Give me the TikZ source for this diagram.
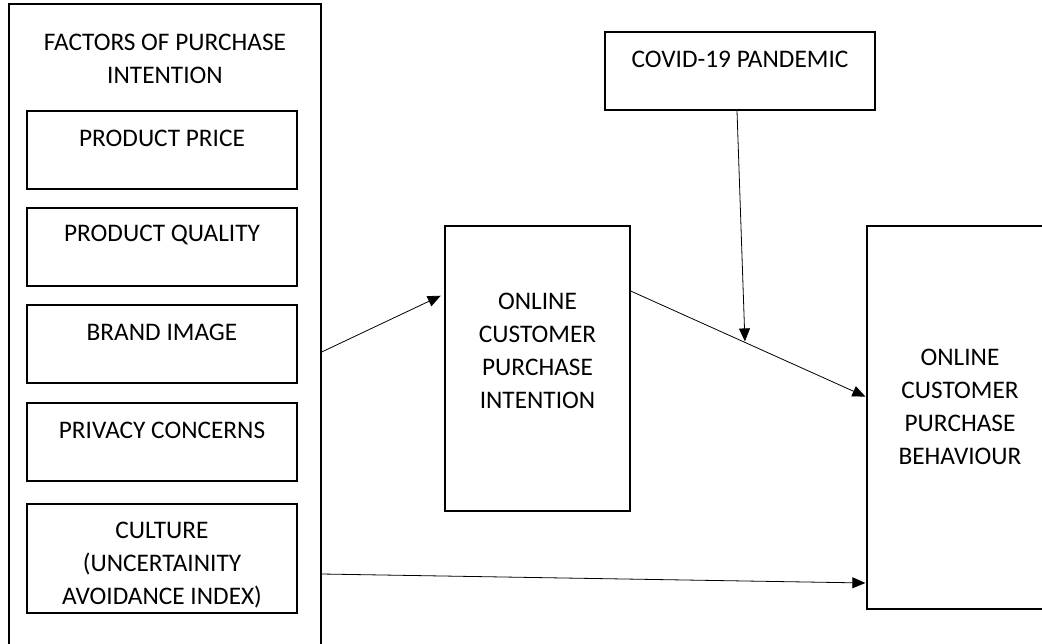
\documentclass[tikz,border=0pt]{standalone}
\usepackage{fontspec}
\setmainfont{Carlito}
\usetikzlibrary{arrows.meta, positioning}

\begin{document}
\begin{tikzpicture}[
    x=1pt, y=-1pt,
    node distance=17.7pt,
    every node/.style={font=\fontsize{25.3}{33}\selectfont},
    every label/.style={align=center, inner sep=0pt, font=\fontsize{25.3}{33}\selectfont},
    box/.style={rectangle, draw, line width=1.3pt, inner sep=0pt},
    factor/.style={box, minimum width=270pt, minimum height=78pt},
    link/.style={draw, line width=0.8pt, -{Triangle[length=13pt, width=11pt]}, shorten >=1pt}
  ]

  \useasboundingbox (0,0) rectangle (1042,643);
  \clip (0,0) rectangle (1042,643);

  % left group
  \node[box, minimum width=312pt, minimum height=646pt,
        label={[anchor=center, yshift=-56pt]north:FACTORS OF PURCHASE\\INTENTION}]
        (factors) at (165,327) {};

  \node[factor, label={[yshift=12pt]center:PRODUCT PRICE}] (price) at (162,150) {};
  \node[factor, below=of price, label={[yshift=12pt]center:PRODUCT QUALITY}] (quality) {};
  \node[factor, below=of quality, label={[yshift=12pt]center:BRAND IMAGE}] (brand) {};
  \node[factor, below=18.7pt of brand, label={[yshift=12pt]center:PRIVACY CONCERNS}] (privacy) {};
  \node[factor, minimum height=109pt, below=21.7pt of privacy,
        label={[yshift=-7pt]center:CULTURE\\(UNCERTAINITY\\AVOIDANCE INDEX)}] (culture) {};

  % other boxes
  \node[factor, label={[yshift=12pt]center:COVID-19 PANDEMIC}] (covid) at (740,71) {};
  \node[box, minimum width=185pt, minimum height=285pt,
        label={[yshift=18pt]center:ONLINE\\CUSTOMER\\PURCHASE\\INTENTION}] (intention) at (537.5,368.5) {};
  \node[box, minimum width=186pt, minimum height=383pt,
        label={[yshift=11pt]center:ONLINE\\CUSTOMER\\PURCHASE\\BEHAVIOUR}] (behaviour) at (960,417.5) {};

  % connectors
  \draw[link, shorten >=4pt] (factors.east |- 0,352) -- (intention.west |- 0,294);
  \draw[link] (intention.east |- 0,291) -- (behaviour.west |- 0,397)
    coordinate[pos=0.485] (moderate);
  \draw[link] ([xshift=-3pt]covid.south) -- (moderate);
  \draw[link] (factors.east |- 0,574) -- (behaviour.west |- 0,583);

\end{tikzpicture}
\end{document}
